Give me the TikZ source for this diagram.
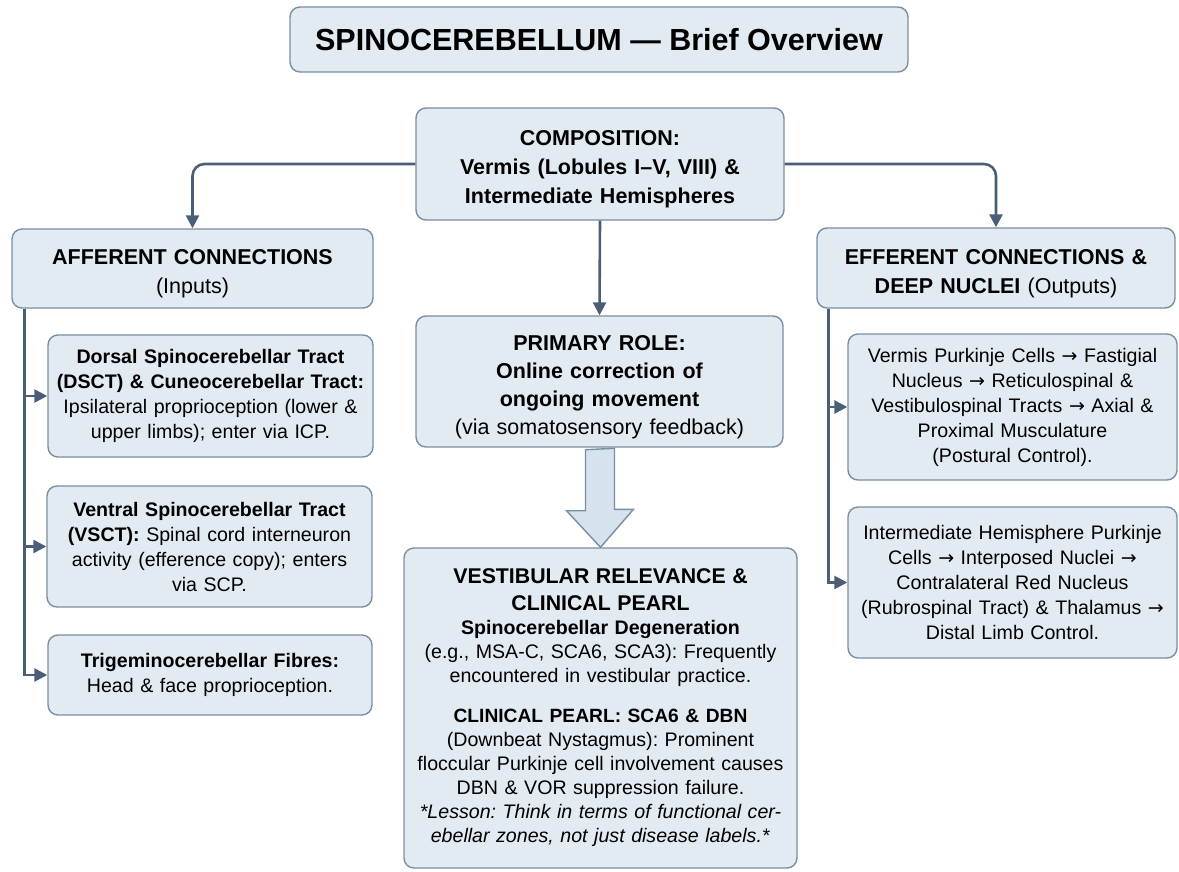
\documentclass[tikz,border=0pt]{standalone}
\usepackage{fontspec}
\setmainfont{Liberation Sans}
\newfontfamily\arrowfont{DejaVu Sans}
\newcommand\toarr{{\arrowfont\fontsize{19}{25}\selectfont →}}
\frenchspacing
\usetikzlibrary{arrows.meta,calc}

\definecolor{boxfill}{RGB}{227,235,242}
\definecolor{boxline}{RGB}{122,142,162}
\definecolor{connline}{RGB}{74,95,118}
\definecolor{bigfill}{RGB}{214,226,238}

\tikzset{
  box/.style={draw=boxline, fill=boxfill, line width=1.4pt, rounded corners=10pt,
    align=center, inner sep=0pt},
  bodytext/.style={font=\fontsize{19.6}{25}\selectfont},
  headtext/.style={font=\fontsize{21.5}{29}\selectfont,
    execute at begin node=\rule{0pt}{26pt}},
  conn/.style={draw=connline, line width=2.6pt,
    -{Triangle[length=13pt,width=13pt]}},
  bigarrow/.style={draw=boxline, fill=bigfill, line width=1.4pt},
}

\begin{document}
\begin{tikzpicture}[x=1pt,y=-1pt]
\useasboundingbox (0,0) rectangle (1179,871);

% title and top row
\node[box, minimum width=618, minimum height=65, font=\fontsize{30.5}{34}\selectfont\bfseries]
  (title) at (599,39.5) {SPINOCEREBELLUM — Brief Overview};
\node[box, headtext, minimum width=368, minimum height=112, text width=360,
  font=\fontsize{21.5}{29}\selectfont\bfseries]
  (comp) at (600,164) {COMPOSITION:\\Vermis (Lobules I–V, VIII) \&\\Intermediate Hemispheres};
\node[box, headtext, minimum width=361, minimum height=79, text width=355]
  (aff) at (192.5,268.5) {\textbf{AFFERENT CONNECTIONS}\\(Inputs)};
\node[box, headtext, minimum width=358, minimum height=80, text width=352]
  (eff) at (996,268) {\textbf{EFFERENT CONNECTIONS \&}\\\textbf{DEEP NUCLEI} (Outputs)};
\node[box, headtext, minimum width=367, minimum height=131, text width=360,
  font=\fontsize{21.5}{28}\selectfont]
  (role) at (599.5,381.5) {\textbf{PRIMARY ROLE:}\\\textbf{Online correction of}\\\textbf{ongoing movement}\\(via somatosensory feedback)};

% afferent side
\node[box, bodytext, minimum width=325, minimum height=122, text width=318]
  (dsct) at (210.5,396) {\textbf{Dorsal Spinocerebellar Tract}\\\textbf{(DSCT) \& Cuneocerebellar Tract:}\\Ipsilateral proprioception (lower \&\\upper limbs); enter via ICP.};
\node[box, bodytext, minimum width=325, minimum height=121, text width=318]
  (vsct) at (209.5,546.5) {\textbf{Ventral Spinocerebellar Tract}\\\textbf{(VSCT):} Spinal cord interneuron\\activity (efference copy); enters\\via SCP.};
\node[box, bodytext, minimum width=324, minimum height=80, text width=318]
  (trig) at (210,675) {\textbf{Trigeminocerebellar Fibres:}\\Head \& face proprioception.};

% efferent side
\node[box, bodytext, minimum width=329, minimum height=146, text width=322]
  (verm) at (1012.5,407) {Vermis Purkinje Cells \toarr{} Fastigial\\Nucleus \toarr{} Reticulospinal \&\\Vestibulospinal Tracts \toarr{} Axial \&\\Proximal Musculature\\(Postural Control).};
\node[box, bodytext, minimum width=329, minimum height=151, text width=322]
  (inter) at (1012.5,582.5) {Intermediate Hemisphere Purkinje\\Cells \toarr{} Interposed Nuclei \toarr\\Contralateral Red Nucleus\\(Rubrospinal Tract) \& Thalamus \toarr\\Distal Limb Control.};

% clinical box
\node[box, minimum width=393, minimum height=320, text width=386, font=\fontsize{19.6}{24}\selectfont]
  (vest) at (600.5,708) {{\fontsize{21.3}{27}\selectfont\bfseries VESTIBULAR RELEVANCE \&\\CLINICAL PEARL\\}
  {\fontsize{19.6}{24}\selectfont\bfseries Spinocerebellar Degeneration}\\(e.g., MSA-C, SCA6, SCA3): Frequently\\encountered in vestibular practice.\\[16pt]
  {\fontsize{19.2}{24}\selectfont\bfseries CLINICAL PEARL: SCA6 \& DBN}\\(Downbeat Nystagmus): Prominent\\floccular Purkinje cell involvement causes\\DBN \& VOR suppression failure.\\
  \textit{*Lesson: Think in terms of functional cer-}\\\textit{ebellar zones, not just disease labels.*}};

% connectors
\draw[conn, rounded corners=12pt] (comp.west) -| (aff.north);
\draw[conn, rounded corners=12pt] (comp.east) -| (eff.north);
\draw[conn] (comp.south) -- (role.north);
\foreach \b in {dsct,vsct,trig}
  \draw[conn] ([xshift=13pt]aff.south west) |- (\b.west);
\foreach \b in {verm,inter}
  \draw[conn] ([xshift=12pt]eff.south west) |- (\b.west);
\draw[bigarrow] ($(role.south)+(-14,2)$) -- ++(0,61) -- ++(-19,0) -- (vest.north)
  -- ++(33,-38) -- ++(-19,0) -- ++(0,-61) -- cycle;
\end{tikzpicture}
\end{document}
